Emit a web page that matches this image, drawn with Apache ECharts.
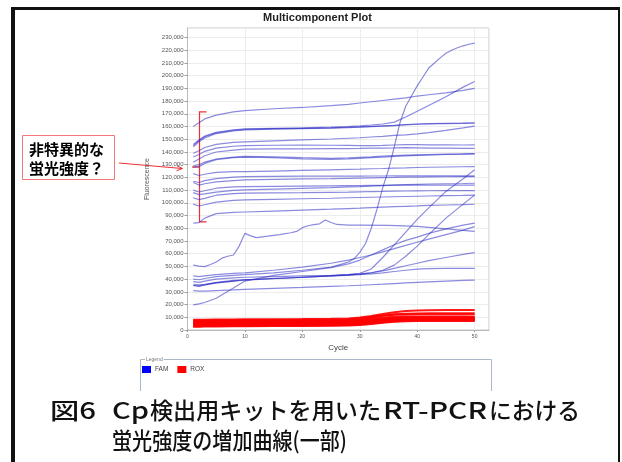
<!DOCTYPE html>
<html>
<head>
<meta charset="utf-8">
<script src="https://cdn.jsdelivr.net/npm/echarts@6/dist/echarts.min.js"></script>
<style>
html,body{margin:0;padding:0;background:#fff;}
#chart{width:622px;height:462px;}
</style>
</head>
<body>
<div id="chart"></div>
<script>
// Cycle numbers at which each amplification trace is sampled
const CYC = [1,2,3,5,8,10,15,20,25,28,30,32,34,36,38,40,42,45,48,50];

// FAM traces with a high, non-specific baseline (fluorescence, x1000)
const famUpper = [
  [160,163,166,169,171.5,172.5,174,175,176.5,177.5,178.5,179.5,180.5,181.5,182.5,184,185,186.5,188.5,190],
  [144,148,151,154.5,156.5,157.3,158,158.4,158.8,159.2,159.6,160,160.3,160.8,161.3,161.8,162,162.3,162.5,162.6],
  [145,149,152,155,157,157.8,158.3,158.6,159,159.5,159.8,160.2,160.6,161,161.6,162,162.3,162.6,162.8,163],
  [146,149.5,152.5,155.5,157.5,158.2,158.6,159,159.5,160,160.5,161.2,162,163.5,167.5,172,176.5,183.5,191,195.4],
  [139,141,143.5,146,147.5,148,148.8,149.5,150.2,150.8,151.2,151.8,152.3,153,153.5,154.2,155.2,157,159,160.4],
  [136,138,140.5,143,144.5,145,145.3,145.5,145.3,145.2,145,145,145.2,145.5,145.8,145.8,145.6,145.6,145.5,145.6],
  [132,134.5,137,140,141.5,142.2,142.5,142.5,142.6,142.7,142.8,143,143,143.2,143.5,143.3,143,143,142.9,142.9],
  [128,128.5,131,134,135.5,136,135.5,134.5,134.2,134.5,135,135.5,136,136.5,137,137.3,137.6,138,138.3,138.5],
  [129,130,132,134.5,136,136.5,136.2,135.5,135,135.3,135.8,136.2,136.7,137.2,137.5,137.8,138,138.3,138.5,138.7],
  [123,121.5,122.5,124,124.5,124.5,125,125.5,126,126.3,126.5,126.8,127,127.3,127.5,127.8,128,128.2,128.4,128.5],
  [117,116,117.5,119,120.3,120.6,120.8,121,121,121,121,121.1,121.1,121.2,121.2,121.2,121.2,121.2,121.2,121.2],
  [116,114,115,116.5,117.5,118,118.5,118.8,119,119.3,119.5,119.7,119.9,120,120.2,120.3,120.4,120.5,120.6,120.6],
  [110,108.5,109.5,111.5,112.5,112.8,113,113.2,113.4,113.5,113.6,113.7,113.8,113.9,114,114,114,114,114,114],
  [108,106.5,107,108.5,109.8,110.2,110.8,111.4,112,112.5,112.8,113.2,113.6,114,114.3,114.6,114.8,115,115.2,115.4],
  [104,102.5,103.5,106,107.3,107.6,107.8,108,108.3,108.5,108.7,108.9,109,109.2,109.3,109.4,109.5,109.6,109.6,109.6],
  [99,97.5,98.5,100.5,102,102.4,102.8,103.2,103.6,104,104.2,104.4,104.6,104.8,105,105.2,105.4,105.6,105.8,106],
  [84,84.5,88,91.5,92.5,92.8,93.5,94.3,95,95.5,95.8,96.2,96.6,97,97.3,97.6,98,98.3,98.6,98.9]
];

// FAM traces with a low baseline, several of them amplifying late
const famLower = [
  [19.7,20.6,21.6,25,33,38.5,43,46,49,52,55,59,63,67,70.5,73,76,79.5,82.5,84],
  [42.5,42,42.5,43.5,44.5,45,47,49.5,52.5,55,57,59,61.5,64,66.5,69,71.5,75,78.5,81.3],
  [35,34.5,35.5,37,38.5,39.3,40.3,41.3,42.5,43.5,44.5,48,57,67,77,87,96,109,119,126],
  [38,37.5,38.5,40,41,41.5,42,42.5,43,43.5,44,45,47,51,58,66,75,88,99,106.2],
  [36,35.5,36,37.5,39,39.5,40.5,41.5,42.5,43.3,44,45,46.5,48.5,50.5,52.5,54.5,57,59.5,60.8],
  [35,34.5,35.5,37,38.5,39.5,40.5,41.5,42.5,43,43.5,44.2,45,46,47,47.8,48.2,48.5,48.5,48.5],
  [31,30.5,30.5,31,31.5,32,32.8,33.5,34.3,34.8,35.2,35.6,36,36.5,37,37.4,37.8,38.4,39,39.3]
];

// FAM trace with an irregular early rise
const wavyCycles = [1,2,3,4,5,6,7,8,9,10,11,12,14,16,18,19,20,21,22,23,24,25,26,28,30,35,40,45,50];
const wavyValues = [51,50.3,49.8,51.5,53.5,56.5,58,59,66,76,74,72.7,73.8,75,76.5,77.5,80.5,82,82.8,83.5,86.5,84.5,83,82.5,82.5,82.3,81.5,79.5,77.5];

// FAM trace with the clear sigmoid amplification
const sigmoidCycles = [1,2,3,5,8,10,15,20,25,27,28,29,30,31,32,33,34,35,36,37,38,39,40,41,42,43,44,45,46,47,48,49,50];
const sigmoidValues = [40,39.5,40.5,42,43,43.5,45,47,49.5,52,53.5,56,61,68,80,95,112,126,144,163,176,184,192,199,206,210,214,217.7,220,222,223.5,224.7,225.6];

// ROX reference dye traces
const roxCurves = [
  [8,8,8,8.2,8.3,8.4,8.5,8.6,8.8,9,9.8,11,12.5,14,15,15.4,15.6,15.7,15.7,15.7],
  [7.5,7.5,7.5,7.6,7.7,7.8,7.9,8,8.1,8.3,9,10.2,11.5,12,12.2,12.3,12.4,12.4,12.4,12.4],
  [7,7,7.1,7.2,7.3,7.3,7.4,7.5,7.6,7.8,8.5,9.8,11.2,12.3,12.8,13,13.1,13.1,13.1,13.1],
  [6.5,6.4,6.5,6.6,6.6,6.7,6.8,6.9,7,7.2,7.8,8.8,9.8,10.4,10.6,10.7,10.7,10.6,10.6,10.5],
  [6,6,6,6.1,6.2,6.2,6.3,6.4,6.5,6.7,7.2,8,9,9.6,9.9,10,10,10,10,10],
  [5.5,5.5,5.6,5.6,5.7,5.8,5.9,6,6.1,6.3,6.8,7.6,8.5,9.1,9.4,9.5,9.6,9.6,9.6,9.6],
  [5,5,5.1,5.2,5.2,5.3,5.4,5.5,5.6,5.8,6.3,7.1,8,8.6,8.9,9,9.1,9.1,9.1,9.1],
  [4.5,4.5,4.6,4.7,4.8,4.8,4.9,5,5.1,5.3,5.8,6.6,7.5,8.1,8.4,8.6,8.7,8.7,8.7,8.7],
  [4,4,4.1,4.2,4.3,4.4,4.5,4.6,4.7,4.9,5.4,6.2,7.1,7.7,8,8.2,8.3,8.3,8.3,8.3],
  [3.5,3.5,3.6,3.7,3.8,3.9,4,4.1,4.2,4.4,4.9,5.7,6.6,7.2,7.6,7.8,7.9,7.9,7.9,7.9],
  [3,3,3.1,3.2,3.3,3.4,3.5,3.6,3.7,3.9,4.4,5.2,6.1,6.8,7.2,7.4,7.5,7.5,7.5,7.5],
  [2.5,2.6,2.7,2.8,2.9,3,3.1,3.2,3.3,3.5,4,4.8,5.7,6.4,6.8,7,7.1,7.1,7.1,7.1]
];

// Caption pieces, one list per caption line
const captionLine1 = ['図6', 'Cp', '検出用キットを用いた', 'RT-PCR', 'における'];
const captionLine2 = ['蛍光強度の増加曲線(一部)'];
const noteLines = ['非特異的な', '蛍光強度？'];

const pair = (xs, ys) => ys.map((v, i) => [xs[i], v]);

function famSeries(xs, ys) {
  return {
    type: 'line', name: 'FAM', data: pair(xs, ys),
    symbol: 'none', silent: true, animation: false,
    itemStyle: { color: '#0000ff' },
    lineStyle: { color: '#2a2ac4', width: 1.2, opacity: 0.55 }
  };
}
function roxSeries(ys) {
  return {
    type: 'line', name: 'ROX', data: pair(CYC, ys),
    symbol: 'none', silent: true, animation: false,
    itemStyle: { color: '#ff0000' },
    lineStyle: { color: '#ff0000', width: 2, opacity: 0.9 }
  };
}

const series = [];
roxCurves.forEach(c => series.push(roxSeries(c)));
famLower.forEach(c => series.push(famSeries(CYC, c)));
famUpper.forEach(c => series.push(famSeries(CYC, c)));
series.push(famSeries(wavyCycles, wavyValues));
series.push(famSeries(sigmoidCycles, sigmoidValues));

const chart = echarts.init(document.getElementById('chart'), null, { renderer: 'canvas' });

const sans = 'Arial, "Liberation Sans", sans-serif';
const jp = '"Noto Sans CJK JP", sans-serif';

chart.setOption({
  backgroundColor: '#ffffff',
  animation: false,
  grid: {
    left: 187.5, right: 133, top: 28, bottom: 132,
    show: true, borderColor: '#c8c8c8', borderWidth: 1, backgroundColor: '#ffffff'
  },
  legend: {
    left: 142, top: 366, padding: 0,
    itemWidth: 9, itemHeight: 7, itemGap: 9,
    textStyle: { fontSize: 6.5, color: '#444', fontFamily: sans, padding: [0, 0, 0, -1] },
    data: [
      { name: 'FAM', icon: 'rect', itemStyle: { color: '#0000ff', opacity: 1 } },
      { name: 'ROX', icon: 'rect', itemStyle: { color: '#ff0000', opacity: 1 } }
    ],
    selectedMode: false
  },
  xAxis: {
    type: 'value', min: 0, max: 52.5, interval: 10,
    name: 'Cycle', nameLocation: 'middle', nameGap: 13,
    nameTextStyle: { fontSize: 8, color: '#444', fontFamily: sans },
    axisLine: { show: true, lineStyle: { color: '#bbbbbb' } },
    axisTick: { show: true, length: 2, lineStyle: { color: '#999' } },
    axisLabel: { fontSize: 5, color: '#555', margin: 4, showMaxLabel: false, fontFamily: sans },
    splitLine: { show: true, lineStyle: { color: '#ececec', width: 1 } }
  },
  yAxis: {
    type: 'value', min: 0, max: 237.5, interval: 10,
    name: 'Fluorescence', nameLocation: 'middle', nameGap: 37,
    nameTextStyle: { fontSize: 7, color: '#555', fontFamily: sans },
    axisLine: { show: true, lineStyle: { color: '#bbbbbb' } },
    axisTick: { show: true, length: 3, lineStyle: { color: '#999' } },
    axisLabel: {
      fontSize: 6, color: '#555', margin: 4, showMaxLabel: false, fontFamily: sans,
      formatter: v => (v * 1000).toLocaleString('en-US')
    },
    splitLine: { show: true, lineStyle: { color: '#ececec', width: 1 } }
  },
  series: series
});

// Bracket marking the spread of starting levels, placed in data space
const bTop = chart.convertToPixel({ gridIndex: 0 }, [2.05, 171.5]);
const bBot = chart.convertToPixel({ gridIndex: 0 }, [2.05, 85]);
const bx = Math.round(bTop[0]) + 0.5;

// Caption pieces are stretched to fixed spans so the wide rounded lettering lines up
const capFont = '500 23px ' + jp;
const measure = document.createElement('canvas').getContext('2d');
measure.font = capFont;
const capSpans = [
  [[50, 96], [112, 149], [150, 381], [383, 487], [489, 580]],
  [[112, 347]]
];
const capY = [410, 440];
const captionGraphics = [];
[captionLine1, captionLine2].forEach((line, li) => {
  line.forEach((piece, pi) => {
    const span = capSpans[li][pi];
    const natural = measure.measureText(piece).width;
    captionGraphics.push({
      type: 'text', x: span[0], y: capY[li], scaleX: (span[1] - span[0]) / natural,
      style: { text: piece, font: capFont, fill: '#111', verticalAlign: 'middle' }
    });
  });
});

chart.setOption({
  graphic: [
    // outer panel frame
    { type: 'rect', shape: { x: 11, y: 7, width: 4, height: 455 }, style: { fill: '#111' } },
    { type: 'rect', shape: { x: 11, y: 7, width: 609, height: 3 }, style: { fill: '#111' } },
    { type: 'rect', shape: { x: 618, y: 7, width: 2, height: 455 }, style: { fill: '#111' } },
    // chart title
    { type: 'text', x: 317.5, y: 18, style: { text: 'Multicomponent Plot', font: 'bold 11px ' + sans, fill: '#222', align: 'center', verticalAlign: 'middle' } },
    // legend frame
    { type: 'polyline', shape: { points: [[140.5, 391], [140.5, 359.5], [491.5, 359.5], [491.5, 391]] }, style: { stroke: '#a9b9c9', lineWidth: 1, fill: null } },
    { type: 'text', x: 145, y: 359.5, style: { text: 'Legend', font: '5px ' + sans, fill: '#777', verticalAlign: 'middle', backgroundColor: '#fff', padding: [0, 1] } },
    // note box
    { type: 'rect', shape: { x: 22.5, y: 135.5, width: 92, height: 44 }, style: { fill: '#fff', stroke: '#f07878', lineWidth: 1 } },
    { type: 'text', x: 29, y: 149.5, style: { text: noteLines[0], font: 'bold 15px ' + jp, fill: '#000', verticalAlign: 'middle' } },
    { type: 'text', x: 29, y: 168, style: { text: noteLines[1], font: 'bold 15px ' + jp, fill: '#000', verticalAlign: 'middle' } },
    // arrow from note to the bracket
    { type: 'line', shape: { x1: 119, y1: 163, x2: 182, y2: 168.5 }, style: { stroke: '#ee3030', lineWidth: 1 } },
    { type: 'polyline', shape: { points: [[177, 165.8], [182.5, 168.5], [176.6, 170.8]] }, style: { stroke: '#ee3030', lineWidth: 1, fill: null } },
    { type: 'line', shape: { x1: 192, y1: 167, x2: bx, y2: 167 }, style: { stroke: '#ee3030', lineWidth: 1.2 } },
    { type: 'polyline', shape: { points: [[bx + 7, bTop[1]], [bx, bTop[1]], [bx, bBot[1]], [bx + 7, bBot[1]]] }, style: { stroke: '#ee3030', lineWidth: 1.2, fill: null } }
  ].concat(captionGraphics)
});
</script>
</body>
</html>
